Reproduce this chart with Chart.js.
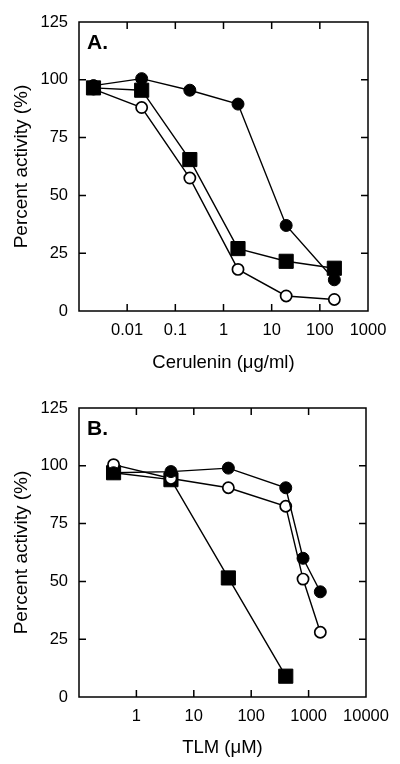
<!DOCTYPE html>
<html>
<head>
<meta charset="utf-8">
<script src="https://cdn.jsdelivr.net/npm/chart.js@4/dist/chart.umd.min.js"></script>
<style>
  html, body { margin: 0; padding: 0; background: #fff; }
  .panel { width: 400px; height: 382px; position: relative; }
</style>
</head>
<body>
<div class="panel"><canvas id="chartA" width="400" height="382"></canvas></div>
<div class="panel"><canvas id="chartB" width="400" height="382"></canvas></div>
<script>
// Panel A - cerulenin (ug/ml)
var ceruleninDose = [0.002, 0.02, 0.2, 2, 20, 200];
var ceruleninSquares = [96.5, 95.5, 65.5, 27, 21.5, 18.5];
var ceruleninFilled = [97.5, 100.5, 95.5, 89.5, 37, 13.5];
var ceruleninOpen = [96, 88, 57.5, 18, 6.5, 5];
var ceruleninTicks = [0.001, 0.01, 0.1, 1, 10, 100, 1000];
var ceruleninTickLabels = ['', '0.01', '0.1', '1', '10', '100', '1000'];

// Panel B - TLM (uM)
var tlmDose = [0.4, 4, 40, 400, 800, 1600];
var tlmFilled = [97, 97.5, 99, 90.5, 60, 45.5];
var tlmOpen = [100.5, 94.5, 90.5, 82.5, 51, 28];
var tlmSquareDose = [0.4, 4, 40, 400];
var tlmSquares = [97, 94, 51.5, 9];
var tlmTicks = [0.1, 1, 10, 100, 1000, 10000];
var tlmTickLabels = ['', '1', '10', '100', '1000', '10000'];

var activityTicks = [0, 25, 50, 75, 100, 125];

Chart.defaults.font.family = "'Liberation Sans', Arial, sans-serif";
Chart.defaults.color = '#000';

function points(xs, ys) {
    return ys.map(function (v, i) { return { x: xs[i], y: v }; });
}

// marker styles used in the figure
function series(kind, data) {
    var ds = { data: data, borderColor: '#000', borderWidth: 1.4, tension: 0, fill: false,
               pointBorderColor: '#000', pointHoverRadius: 0 };
    if (kind === 'square') {
        ds.pointStyle = 'rect'; ds.pointRadius = 10; ds.pointBorderWidth = 1;
        ds.pointBackgroundColor = '#000';
    } else if (kind === 'filled') {
        ds.pointStyle = 'circle'; ds.pointRadius = 6; ds.pointBorderWidth = 1;
        ds.pointBackgroundColor = '#000';
    } else {
        ds.pointStyle = 'circle'; ds.pointRadius = 5.6; ds.pointBorderWidth = 1.7;
        ds.pointBackgroundColor = '#fff';
    }
    return ds;
}

// box frame + inward ticks on all four sides, panel letter
var frameTicks = {
    id: 'frameTicks',
    beforeDatasetsDraw: function (chart, args, opts) {
        var ctx = chart.ctx, a = chart.chartArea;
        var sx = chart.scales.x, sy = chart.scales.y;
        ctx.save();
        ctx.strokeStyle = '#000';
        ctx.lineWidth = 1.5;
        ctx.strokeRect(a.left, a.top, a.right - a.left, a.bottom - a.top);
        ctx.beginPath();
        sx.ticks.forEach(function (t) {
            var px = sx.getPixelForValue(t.value);
            if (px <= a.left + 1 || px >= a.right - 1) return;
            ctx.moveTo(px, a.bottom); ctx.lineTo(px, a.bottom - 7);
            ctx.moveTo(px, a.top); ctx.lineTo(px, a.top + 7);
        });
        sy.ticks.forEach(function (t) {
            var py = sy.getPixelForValue(t.value);
            if (py <= a.top + 1 || py >= a.bottom - 1) return;
            ctx.moveTo(a.left, py); ctx.lineTo(a.left + 7, py);
            ctx.moveTo(a.right, py); ctx.lineTo(a.right - 7, py);
        });
        ctx.stroke();
        ctx.fillStyle = '#000';
        ctx.font = "bold 21px 'Liberation Sans', Arial, sans-serif";
        ctx.textBaseline = 'alphabetic';
        ctx.fillText(opts.letter, a.left + 8, a.top + 26.5);
        ctx.restore();
    }
};

function makeChart(id, datasets, cfg) {
    return new Chart(document.getElementById(id), {
        type: 'line',
        data: { datasets: datasets },
        plugins: [frameTicks],
        options: {
            responsive: false,
            animation: false,
            layout: { padding: { left: 0, right: cfg.padRight, top: cfg.padTop, bottom: 0 } },
            plugins: {
                legend: { display: false },
                tooltip: { enabled: false },
                frameTicks: { letter: cfg.letter }
            },
            scales: {
                x: {
                    type: 'logarithmic',
                    min: cfg.xTicks[0],
                    max: cfg.xTicks[cfg.xTicks.length - 1],
                    afterBuildTicks: function (s) {
                        s.ticks = cfg.xTicks.map(function (v) { return { value: v }; });
                    },
                    afterFit: function (s) { s.height = cfg.xHeight; },
                    grid: { display: false, drawTicks: false },
                    border: { display: false },
                    ticks: {
                        autoSkip: false, maxRotation: 0, padding: 10,
                        font: { size: 16.5 },
                        callback: function (v, i) { return cfg.xLabels[i]; }
                    },
                    title: {
                        display: true, text: cfg.xTitle,
                        font: { size: 18.5 },
                        padding: { top: 0, bottom: cfg.titlePad }
                    }
                },
                y: {
                    min: 0, max: 125,
                    afterBuildTicks: function (s) {
                        s.ticks = activityTicks.map(function (v) { return { value: v }; });
                    },
                    afterFit: function (s) { s.width = 79; },
                    grid: { display: false, drawTicks: false },
                    border: { display: false },
                    ticks: { padding: 11, font: { size: 16.5 } },
                    title: {
                        display: true, text: 'Percent activity (%)',
                        font: { size: 19 },
                        padding: { top: 10.5, bottom: 0 }
                    }
                }
            }
        }
    });
}

// dataset index 0 is painted last (on top)
makeChart('chartA', [
    series('square', points(ceruleninDose, ceruleninSquares)),
    series('filled', points(ceruleninDose, ceruleninFilled)),
    series('open', points(ceruleninDose, ceruleninOpen))
], {
    letter: 'A.', xTicks: ceruleninTicks, xLabels: ceruleninTickLabels,
    xTitle: 'Cerulenin (\u03bcg/ml)', padTop: 22, padRight: 32, xHeight: 71, titlePad: 8
});

makeChart('chartB', [
    series('filled', points(tlmDose, tlmFilled)),
    series('open', points(tlmDose, tlmOpen)),
    series('square', points(tlmSquareDose, tlmSquares))
], {
    letter: 'B.', xTicks: tlmTicks, xLabels: tlmTickLabels,
    xTitle: 'TLM (\u03bcM)', padTop: 26, padRight: 34, xHeight: 67, titlePad: 5
});
</script>
</body>
</html>
